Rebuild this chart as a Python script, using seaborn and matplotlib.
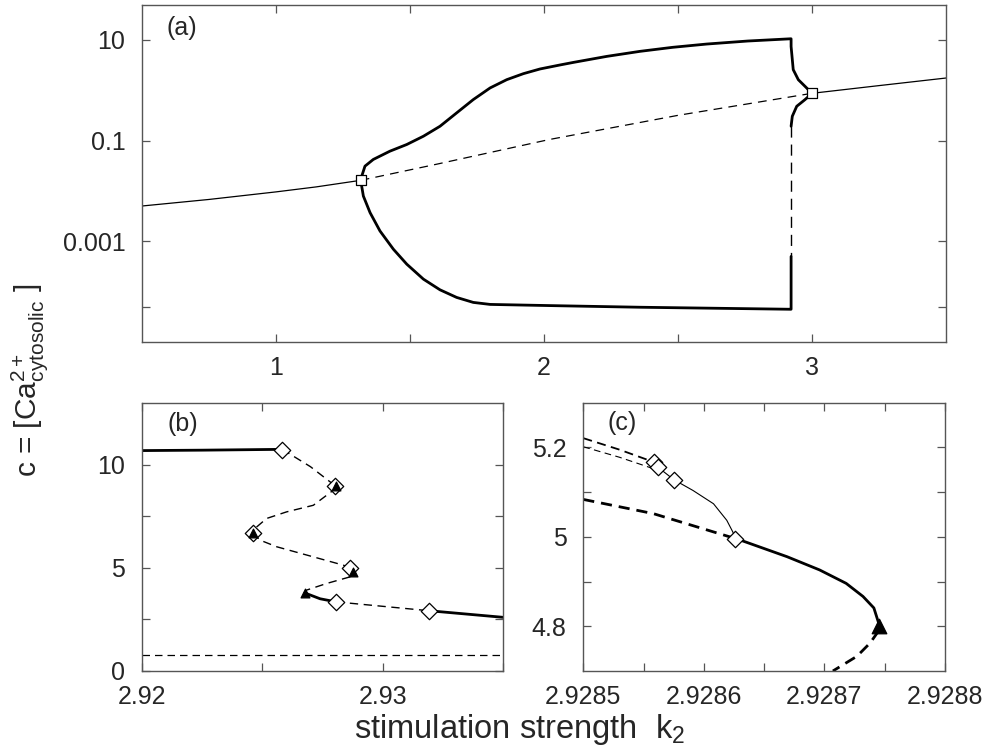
import numpy as np
import pandas as pd
import matplotlib
matplotlib.use("Agg")
import matplotlib.pyplot as plt
import seaborn as sns

# ---------------- Panel (a) data ----------------
a_stable_left_k = [0.5, 0.75, 1.0, 1.15, 1.316]
a_stable_left_c = [0.00501, 0.00676, 0.00955, 0.0120, 0.0162]
a_stable_right_k = [3.0, 3.25, 3.5]
a_stable_right_c = [0.865, 1.23, 1.74]
a_unstable_k = [1.316, 1.6, 2.02, 2.5, 3.0]
a_unstable_c = [0.0162, 0.0339, 0.1047, 0.316, 0.865]
a_max_k = [1.316, 1.320, 1.332, 1.363, 1.425, 1.488, 1.550, 1.612, 1.674, 1.736,
           1.799, 1.861, 1.923, 1.985, 2.06, 2.109, 2.234, 2.358, 2.48, 2.607,
           2.76, 2.922, 2.922, 2.930, 2.949, 2.974, 3.0]
a_max_c = [0.0162, 0.01963, 0.03097, 0.04207, 0.06138, 0.08337, 0.1216, 0.1919, 0.3532, 0.6486,
           1.107, 1.614, 2.123, 2.630, 3.162, 3.548, 4.677, 5.888, 7.079, 8.222,
           9.441, 10.47, 7.36, 2.55, 1.61, 1.19, 0.865]
a_loop_low_k = [3.0, 2.974, 2.943, 2.9265, 2.922]
a_loop_low_c = [0.865, 0.649, 0.478, 0.303, 0.192]
a_jump_k = [2.922, 2.922]
a_jump_c = [0.192, 5.0e-4]
a_min_k = [1.316, 1.326, 1.351, 1.388, 1.438, 1.488, 1.550, 1.612, 1.674, 1.736,
           1.799, 1.923, 2.060, 2.358, 2.918, 2.922, 2.922]
a_min_c = [0.0162, 0.007889, 0.003698, 0.0016, 6.95e-4, 3.507e-4, 1.770e-4, 1.086e-4, 7.674e-5, 6.109e-5,
           5.572e-5, 5.408e-5, 5.236e-5, 4.898e-5, 4.467e-5, 4.467e-5, 5.0e-4]
a_hopf_k = [1.316, 3.0]
a_hopf_c = [0.0162, 0.865]
a_yticks = [10, 0.1, 0.001, 10 ** -4.3]
a_yticklabels = ["10", "0.1", "0.001", ""]
a_xticks = [1, 1.5, 2, 2.5, 3]
a_xticklabels = ["1", "", "2", "", "3"]

# ---------------- Panel (b) data ----------------
b_upper_k = [2.92, 2.9225, 2.92583]
b_upper_c = [10.68, 10.70, 10.74]
b_dash1_k = [2.92583, 2.92700, 2.92802]
b_dash1_c = [10.74, 9.90, 8.98]
b_dash2_k = [2.92802, 2.92795, 2.92712, 2.92601, 2.92518, 2.92477, 2.92460]
b_dash2_c = [8.98, 8.76, 8.03, 7.71, 7.39, 6.98, 6.69]
b_dash3_k = [2.92460, 2.92491, 2.92560, 2.92712, 2.92836, 2.92864]
b_dash3_c = [6.69, 6.34, 6.02, 5.53, 5.13, 5.00]
b_dash4_k = [2.92864, 2.92767, 2.92684, 2.92677]
b_dash4_c = [4.56, 4.24, 3.92, 3.78]
b_solid_mid_k = [2.92677, 2.92740, 2.92806]
b_solid_mid_c = [3.78, 3.50, 3.35]
b_dash5_k = [2.92806, 2.93192]
b_dash5_c = [3.35, 2.92]
b_lower_k = [2.93192, 2.935]
b_lower_c = [2.92, 2.60]
b_ss_k = [2.92, 2.935]
b_ss_c = [0.76, 0.76]
b_diamond_k = [2.92583, 2.92802, 2.92460, 2.92864, 2.92806, 2.93192]
b_diamond_c = [10.72, 8.98, 6.69, 5.00, 3.35, 2.92]
b_tri_k = [2.92806, 2.92462, 2.92875, 2.92677]
b_tri_c = [8.95, 6.69, 4.79, 3.78]
b_yticks = [0, 2.5, 5, 7.5, 10]
b_yticklabels = ["0", "", "5", "", "10"]
b_xticks = [2.92, 2.925, 2.93, 2.935]
b_xticklabels = ["2.92", "", "2.93", ""]

# ---------------- Panel (c) data ----------------
c_dash_top1_k = [2.9285, 2.928530, 2.928559]
c_dash_top1_c = [5.2207, 5.195, 5.1667]
c_dash_top2_k = [2.9285, 2.928530, 2.928563]
c_dash_top2_c = [5.2015, 5.178, 5.148]
c_thin_k = [2.928559, 2.928562, 2.928575, 2.928591, 2.928608, 2.928619, 2.928624, 2.928626]
c_thin_c = [5.1667, 5.1556, 5.128, 5.1037, 5.074, 5.037, 5.011, 4.9963]
c_thickdash_k = [2.9285, 2.928558, 2.928626]
c_thickdash_c = [5.0837, 5.052, 4.9963]
c_thick_k = [2.928626, 2.92863, 2.928669, 2.928696, 2.928718, 2.928732, 2.928741, 2.928745]
c_thick_c = [4.9963, 4.993, 4.9556, 4.926, 4.896, 4.8667, 4.841, 4.807]
c_lowdash_k = [2.928745, 2.928738, 2.928727, 2.928707]
c_lowdash_c = [4.79, 4.763, 4.733, 4.70]
c_diamond_k = [2.928559, 2.928562, 2.928575, 2.928626]
c_diamond_c = [5.1667, 5.1556, 5.128, 4.9963]
c_tri_k = [2.928745]
c_tri_c = [4.80]
c_yticks = [4.8, 4.9, 5.0, 5.1, 5.2]
c_yticklabels = ["4.8", "", "5", "", "5.2"]
c_xticks = [2.9285, 2.92855, 2.9286, 2.92865, 2.9287, 2.92875, 2.9288]
c_xticklabels = ["2.9285", "", "2.9286", "", "2.9287", "", "2.9288"]

# ---------------- Style ----------------
sns.set_style("ticks")
plt.rcParams["font.family"] = ["Liberation Sans", "DejaVu Sans"]
plt.rcParams["mathtext.fontset"] = "custom"
plt.rcParams["mathtext.rm"] = "Liberation Sans"
plt.rcParams["mathtext.it"] = "Liberation Sans:italic"
SPINE = "#555555"
TICKSIZE = 18

fig = plt.figure(figsize=(9.87, 7.52), dpi=100)
ax_a = fig.add_axes([142 / 987, 1 - 342 / 752, 804 / 987, 337 / 752])
ax_b = fig.add_axes([141.7 / 987, 1 - 671 / 752, 361.6 / 987, 268.3 / 752])
ax_c = fig.add_axes([583.3 / 987, 1 - 671 / 752, 361.7 / 987, 268.3 / 752])


def line(ax, k, c, lw=1.0, dashes=None):
    df = pd.DataFrame({"k": k, "c": c})
    ls = "-" if dashes is None else (0, dashes)
    sns.lineplot(data=df, x="k", y="c", ax=ax, sort=False, estimator=None,
                 color="black", lw=lw, linestyle=ls, legend=False)


def marks(ax, k, c, marker, s, filled):
    df = pd.DataFrame({"k": k, "c": c})
    sns.scatterplot(data=df, x="k", y="c", ax=ax, marker=marker, s=s,
                    color="black" if filled else "white",
                    edgecolor="black", linewidth=0.9, zorder=5, legend=False)


def style_axes(ax):
    for sp in ax.spines.values():
        sp.set_visible(True)
        sp.set_color(SPINE)
        sp.set_linewidth(1.0)
    ax.tick_params(which="both", direction="in", top=True, right=True,
                   length=6, width=0.9, color=SPINE, labelsize=TICKSIZE)
    ax.tick_params(axis="y", pad=12)
    ax.tick_params(axis="x", pad=10)
    ax.set_xlabel("")
    ax.set_ylabel("")


# Panel (a)
ax_a.set_yscale("log")
line(ax_a, a_stable_left_k, a_stable_left_c, lw=0.9)
line(ax_a, a_stable_right_k, a_stable_right_c, lw=0.9)
line(ax_a, a_unstable_k, a_unstable_c, lw=0.9, dashes=(7, 5))
line(ax_a, a_max_k, a_max_c, lw=2.0)
line(ax_a, a_loop_low_k, a_loop_low_c, lw=2.0)
line(ax_a, a_jump_k, a_jump_c, lw=1.0, dashes=(8, 5))
line(ax_a, a_min_k, a_min_c, lw=2.0)
marks(ax_a, a_hopf_k, a_hopf_c, "s", 60, False)
ax_a.set_xlim(0.5, 3.5)
ax_a.set_ylim(1e-5, 49)
ax_a.minorticks_off()
ax_a.set_yticks(a_yticks)
ax_a.set_yticklabels(a_yticklabels)
ax_a.set_xticks(a_xticks)
ax_a.set_xticklabels(a_xticklabels)
style_axes(ax_a)
ax_a.minorticks_off()
ax_a.text(0.031, 0.933, "(a)", transform=ax_a.transAxes, fontsize=TICKSIZE,
          ha="left", va="center")

# Panel (b)
line(ax_b, b_upper_k, b_upper_c, lw=2.0)
line(ax_b, b_dash1_k, b_dash1_c, lw=1.0, dashes=(6, 4))
line(ax_b, b_dash2_k, b_dash2_c, lw=1.0, dashes=(6, 4))
line(ax_b, b_dash3_k, b_dash3_c, lw=1.0, dashes=(6, 4))
line(ax_b, b_dash4_k, b_dash4_c, lw=1.0, dashes=(6, 4))
line(ax_b, b_solid_mid_k, b_solid_mid_c, lw=2.0)
line(ax_b, b_dash5_k, b_dash5_c, lw=1.0, dashes=(6, 4))
line(ax_b, b_lower_k, b_lower_c, lw=2.0)
line(ax_b, b_ss_k, b_ss_c, lw=0.9, dashes=(6, 4))
marks(ax_b, b_diamond_k, b_diamond_c, "D", 70, False)
marks(ax_b, b_tri_k, b_tri_c, "^", 40, True)
ax_b.set_xlim(2.92, 2.935)
ax_b.set_ylim(0, 13)
ax_b.set_yticks(b_yticks)
ax_b.set_yticklabels(b_yticklabels)
ax_b.set_xticks(b_xticks)
ax_b.set_xticklabels(b_xticklabels)
style_axes(ax_b)
ax_b.text(0.07, 0.921, "(b)", transform=ax_b.transAxes, fontsize=TICKSIZE,
          ha="left", va="center")

# Panel (c)
line(ax_c, c_dash_top1_k, c_dash_top1_c, lw=1.3, dashes=(5, 3))
line(ax_c, c_dash_top2_k, c_dash_top2_c, lw=0.8, dashes=(6, 4))
line(ax_c, c_thin_k, c_thin_c, lw=0.8)
line(ax_c, c_thickdash_k, c_thickdash_c, lw=2.0, dashes=(4, 2.5))
line(ax_c, c_thick_k, c_thick_c, lw=2.0)
line(ax_c, c_lowdash_k, c_lowdash_c, lw=2.0, dashes=(4, 2.5))
marks(ax_c, c_diamond_k, c_diamond_c, "D", 70, False)
marks(ax_c, c_tri_k, c_tri_c, "^", 110, True)
ax_c.set_xlim(2.9285, 2.9288)
ax_c.set_ylim(4.7, 5.3)
ax_c.set_yticks(c_yticks)
ax_c.set_yticklabels(c_yticklabels)
ax_c.set_xticks(c_xticks)
ax_c.set_xticklabels(c_xticklabels)
style_axes(ax_c)
ax_c.text(0.066, 0.924, "(c)", transform=ax_c.transAxes, fontsize=TICKSIZE,
          ha="left", va="center")

fig.text(520 / 987, 1 - 738 / 752, r"stimulation strength  k$_2$",
         fontsize=23.5, ha="center", va="baseline")
fig.text(30 / 987, 1 - 380 / 752, r"c = [Ca$^{2+}_{\mathrm{cytosolic}}$ ]",
         fontsize=21.5, ha="center", va="center", rotation=90)

fig.savefig("out.png", dpi=100)
